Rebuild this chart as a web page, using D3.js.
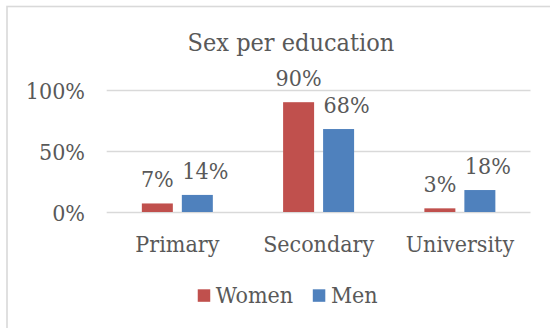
<!DOCTYPE html>
<html>
<head>
<meta charset="utf-8">
<script src="https://cdn.jsdelivr.net/npm/d3@7"></script>
<style>
  body { margin: 0; background: #fff; }
  text { font-family: "DejaVu Serif Condensed", "DejaVu Serif", serif; fill: #595959; }
</style>
</head>
<body>
<svg id="chart" width="550" height="328"></svg>
<script>
// Chart data
const title = "Sex per education";
const categories = ["Primary", "Secondary", "University"];
const seriesNames = ["Women", "Men"];
const women = [7, 90, 3];
const men = [14, 68, 18];
const yTicks = [0, 50, 100];

const seriesValues = { Women: women, Men: men };
const colors = { Women: "#C0504D", Men: "#4F81BD" };

const svg = d3.select("#chart");

// Chart frame (extends past the right and bottom edges)
svg.append("rect")
  .attr("x", 7).attr("y", 6.5)
  .attr("width", 566).attr("height", 340)
  .attr("fill", "none")
  .attr("stroke", "#D9D9D9")
  .attr("stroke-width", 1.6);

const plot = { left: 106.7, right: 530.5, top: 90, bottom: 212 };

const y = d3.scaleLinear().domain([0, 100]).range([plot.bottom, plot.top]);

const x0 = d3.scaleBand()
  .domain(categories)
  .range([plot.left, plot.right])
  .paddingInner(0.4975)
  .paddingOuter(0.24875);

const x1 = d3.scaleBand()
  .domain(seriesNames)
  .range([0, x0.bandwidth()])
  .paddingInner(0.225);

// Value axis with gridlines
const yAxis = svg.append("g")
  .attr("transform", `translate(${plot.left},0)`)
  .call(d3.axisLeft(y)
    .tickValues(yTicks)
    .tickFormat(d => d + "%")
    .tickSize(-(plot.right - plot.left))
    .tickPadding(21.7));
yAxis.select(".domain").remove();
yAxis.selectAll(".tick line").attr("stroke", "#D9D9D9").attr("stroke-width", 1.3);
yAxis.selectAll(".tick text")
  .attr("font-size", 23)
  .attr("dy", "0.36em")
  .style("font-family", null);

// Category axis
const xAxis = svg.append("g")
  .attr("transform", `translate(0,${plot.bottom})`)
  .call(d3.axisBottom(x0).tickSize(0).tickPadding(23.7));
xAxis.select(".domain").remove();
xAxis.selectAll(".tick text").attr("font-size", 23);

// Bars and value labels
const rows = categories.map((c, i) => ({
  category: c,
  values: seriesNames.map(s => ({ series: s, value: seriesValues[s][i] }))
}));

const groups = svg.append("g").selectAll("g")
  .data(rows)
  .join("g")
  .attr("transform", d => `translate(${x0(d.category)},0)`);

groups.selectAll("rect")
  .data(d => d.values)
  .join("rect")
  .attr("x", d => x1(d.series))
  .attr("y", d => y(d.value))
  .attr("width", x1.bandwidth())
  .attr("height", d => y(0) - y(d.value))
  .attr("fill", d => colors[d.series]);

groups.selectAll("text")
  .data(d => d.values)
  .join("text")
  .attr("x", d => x1(d.series) + x1.bandwidth() / 2 + (d.series === "Men" ? 8 : 0))
  .attr("y", d => y(d.value) - 16)
  .attr("text-anchor", "middle")
  .attr("font-size", 23)
  .text(d => d.value + "%");

// Title
svg.append("text")
  .attr("x", 290.9)
  .attr("y", 51)
  .attr("text-anchor", "middle")
  .attr("font-size", 25)
  .text(title);

// Legend
const legend = svg.append("g");
const items = legend.selectAll("g")
  .data(seriesNames)
  .join("g");
items.append("rect")
  .attr("width", 12.5).attr("height", 12.5)
  .attr("y", 289.3)
  .attr("fill", d => colors[d]);
items.append("text")
  .attr("x", 18.1)
  .attr("y", 302.7)
  .attr("font-size", 23)
  .text(d => d);

let offset = 0;
const itemGap = 19.6;
items.each(function () {
  const w = 18.1 + this.querySelector("text").getComputedTextLength();
  d3.select(this).attr("data-w", w).attr("transform", `translate(${offset},0)`);
  offset += w + itemGap;
});
const totalW = offset - itemGap;
legend.attr("transform", `translate(${287.7 - totalW / 2},0)`);
</script>
</body>
</html>
